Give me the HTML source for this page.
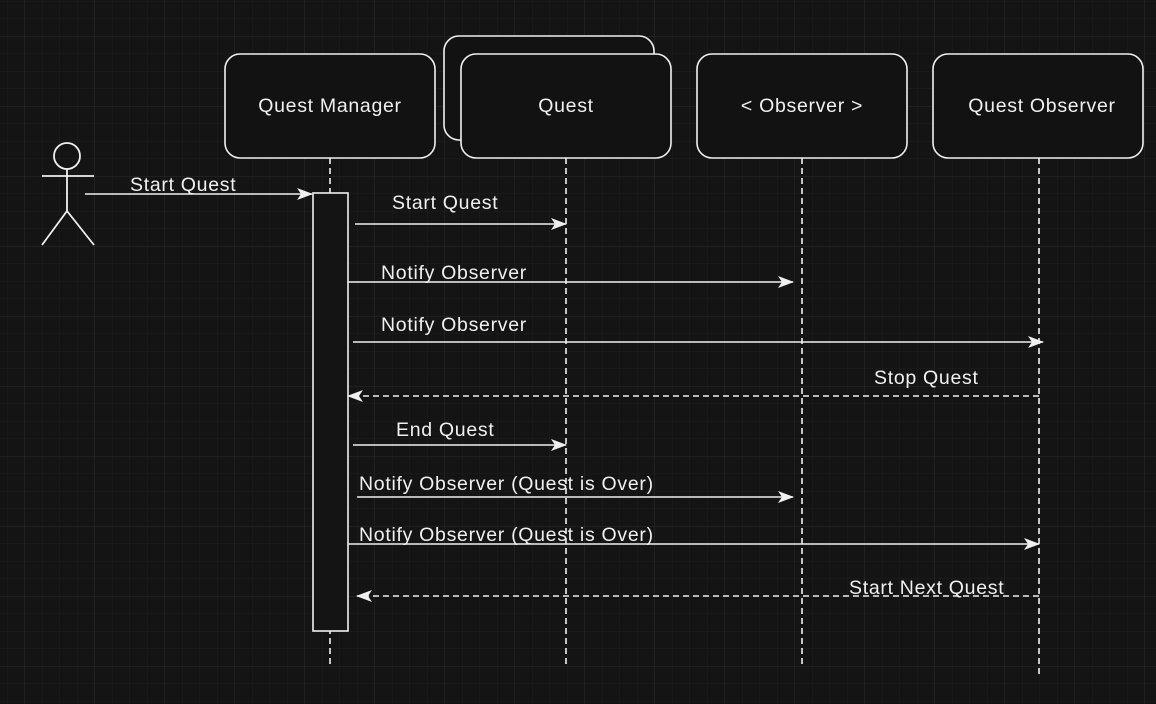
<!DOCTYPE html>
<html><head><meta charset="utf-8"><style>
html,body{margin:0;padding:0;background:#141414;}
svg{display:block;}
text{font-family:"Liberation Sans",sans-serif;font-size:19.5px;letter-spacing:0.7px;fill:#f0f0f0;}
</style></head><body>
<svg width="1156" height="704" viewBox="0 0 1156 704" xmlns="http://www.w3.org/2000/svg">
<defs>
<pattern id="minor" width="17.5" height="17.5" patternUnits="userSpaceOnUse" x="7" y="1">
<path d="M0 0H17.5M0 0V17.5" stroke="#1e1e1e" stroke-width="1" fill="none"/>
</pattern>
<pattern id="major" width="70" height="70" patternUnits="userSpaceOnUse" x="24.5" y="36">
<path d="M0 0H70M0 0V70" stroke="#2c2c2c" stroke-width="1" fill="none"/>
</pattern>
<marker id="ah" markerWidth="16" markerHeight="14" refX="15" refY="7" orient="auto" markerUnits="userSpaceOnUse">
<path d="M0,1 L16,7 L0,13 L4,7 Z" fill="#f0f0f0"/>
</marker>
</defs>
<rect width="1156" height="704" fill="#141414"/>
<rect width="1156" height="704" fill="url(#minor)"/>
<rect width="1156" height="704" fill="url(#major)"/>

<g stroke="#f0f0f0" stroke-width="1.6" fill="none" stroke-dasharray="6,4">
<line x1="330" y1="158" x2="330" y2="666"/>
<line x1="566" y1="158" x2="566" y2="666"/>
<line x1="802" y1="158" x2="802" y2="666"/>
<line x1="1039" y1="158" x2="1039" y2="675"/>
</g>

<g stroke="#f0f0f0" stroke-width="1.6" fill="#121212">
<rect x="225" y="54" width="210" height="104" rx="15"/>
<rect x="444" y="36" width="210" height="104" rx="15"/>
<rect x="461" y="54" width="210" height="104" rx="15"/>
<rect x="697" y="54" width="210" height="104" rx="15"/>
<rect x="933" y="54" width="210" height="104" rx="15"/>
<rect x="313" y="193" width="35" height="438" fill="#141414"/>
</g>
<text x="330" y="112" text-anchor="middle">Quest Manager</text>
<text x="566" y="112" text-anchor="middle">Quest</text>
<text x="802" y="112" text-anchor="middle">&lt; Observer &gt;</text>
<text x="1042" y="112" text-anchor="middle">Quest Observer</text>

<g stroke="#f0f0f0" stroke-width="1.8" fill="none">
<circle cx="67" cy="156" r="13"/>
<line x1="67" y1="169" x2="67" y2="211"/>
<line x1="42" y1="176" x2="94" y2="176"/>
<line x1="67" y1="211" x2="42" y2="245"/>
<line x1="67" y1="211" x2="94" y2="245"/>
</g>

<g stroke="#f0f0f0" stroke-width="1.6" fill="none">
<line x1="85" y1="194" x2="312" y2="194" marker-end="url(#ah)"/>
<line x1="355" y1="224" x2="566" y2="224" marker-end="url(#ah)"/>
<line x1="348" y1="282" x2="793" y2="282" marker-end="url(#ah)"/>
<line x1="353" y1="342" x2="1043" y2="342" marker-end="url(#ah)"/>
<line x1="1039" y1="396" x2="348" y2="396" marker-end="url(#ah)" stroke-dasharray="6,4"/>
<line x1="353" y1="445" x2="566" y2="445" marker-end="url(#ah)"/>
<line x1="357" y1="497" x2="793" y2="497" marker-end="url(#ah)"/>
<line x1="348" y1="544" x2="1039" y2="544" marker-end="url(#ah)"/>
<line x1="1039" y1="596" x2="357" y2="596" marker-end="url(#ah)" stroke-dasharray="6,4"/>
</g>

<text x="130" y="191">Start Quest</text>
<text x="392" y="209">Start Quest</text>
<text x="381" y="279">Notify Observer</text>
<text x="381" y="331">Notify Observer</text>
<text x="874" y="384">Stop Quest</text>
<text x="396" y="436">End Quest</text>
<text x="359" y="490">Notify Observer (Quest is Over)</text>
<text x="359" y="541">Notify Observer (Quest is Over)</text>
<text x="849" y="594">Start Next Quest</text>
</svg>
</body></html>
